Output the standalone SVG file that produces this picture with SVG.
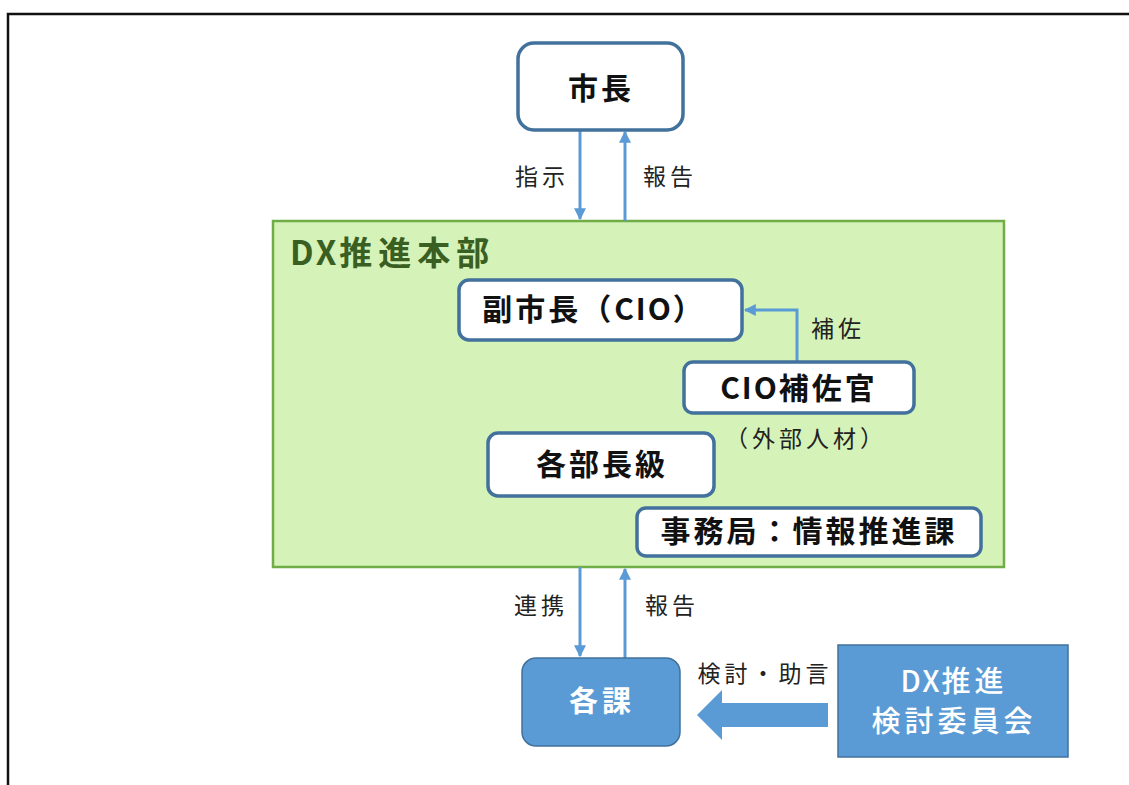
<svg xmlns="http://www.w3.org/2000/svg" width="1129" height="785" viewBox="0 0 1129 785">
<defs>
<style>
.t{font-family:"Noto Sans CJK JP","Liberation Sans",sans-serif;}
.nb{fill:#fff;stroke:#41719C;stroke-width:3.5;}
.nt{font-size:30px;font-weight:bold;fill:#111;text-anchor:middle;dominant-baseline:central;letter-spacing:3px;}
.lb{font-size:23px;fill:#222;text-anchor:middle;dominant-baseline:central;letter-spacing:4px;}
.cn{stroke:#5B9BD5;stroke-width:3;fill:none;}
.wt{font-size:29px;fill:#fff;text-anchor:middle;dominant-baseline:central;letter-spacing:4px;}
.la{letter-spacing:2px;}
</style>
<marker id="ah" viewBox="0 0 10 10" refX="9" refY="5" markerWidth="4" markerHeight="4" orient="auto-start-reverse" markerUnits="strokeWidth">
<path d="M0,0 L10,5 L0,10 z" fill="#5B9BD5"/>
</marker>
</defs>
<rect width="1129" height="785" fill="#fff"/>
<path d="M8,785 V14 H1129" fill="none" stroke="#111" stroke-width="2.5"/>

<g id="honbu">
<rect x="273" y="221" width="731" height="346" fill="#D5F2B8" stroke="#70AD47" stroke-width="2.5"/>
<text class="t" x="290" y="251" font-size="33" font-weight="bold" fill="#3A5F22" dominant-baseline="central" letter-spacing="6"><tspan letter-spacing="3">DX</tspan>推進本部</text>
</g>

<g id="connectors">
<line class="cn" x1="580" y1="130" x2="580" y2="219" marker-end="url(#ah)"/>
<line class="cn" x1="625" y1="221" x2="625" y2="132" marker-end="url(#ah)"/>
<line class="cn" x1="580" y1="567" x2="580" y2="656" marker-end="url(#ah)"/>
<line class="cn" x1="625" y1="658" x2="625" y2="569" marker-end="url(#ah)"/>
<polyline class="cn" points="797,362 797,310 745,310" marker-end="url(#ah)"/>
<polygon points="828,703 722,703 722,690 697,715 722,740 722,727 828,727" fill="#5B9BD5"/>
<text class="t lb" x="542" y="175">指示</text>
<text class="t lb" x="670" y="175">報告</text>
<text class="t lb" x="838" y="327">補佐</text>
<text class="t lb" x="541" y="604">連携</text>
<text class="t lb" x="672" y="604">報告</text>
<text class="t lb" x="765" y="672">検討・助言</text>
</g>

<g id="shicho">
<rect class="nb" x="518" y="43" width="165" height="87" rx="16"/>
<text class="t nt" x="601" y="86">市長</text>
</g>

<g id="fukushicho">
<rect class="nb" x="459" y="280" width="283" height="60" rx="10"/>
<text class="t nt" x="594" y="307">副市長（<tspan class="la">CIO</tspan>）</text>
</g>

<g id="cio-hosakan">
<rect class="nb" x="684" y="362" width="230" height="51" rx="9"/>
<text class="t nt" x="799" y="386"><tspan class="la">CIO</tspan>補佐官</text>
<text class="t lb" x="806" y="437">（外部人材）</text>
</g>

<g id="kakubuchokyu">
<rect class="nb" x="488" y="433" width="226" height="63" rx="10"/>
<text class="t nt" x="602" y="462">各部長級</text>
</g>

<g id="jimukyoku">
<rect class="nb" x="637" y="508" width="344" height="48" rx="9"/>
<text class="t nt" x="809" y="529">事務局：情報推進課</text>
</g>

<g id="kakuka">
<rect x="522" y="658" width="158" height="88" rx="14" fill="#5B9BD5" stroke="#41719C" stroke-width="1.5"/>
<text class="t wt" x="602" y="699" font-weight="bold">各課</text>
</g>

<g id="iinkai">
<rect x="838" y="645" width="230" height="112" fill="#5B9BD5" stroke="#41719C" stroke-width="1.5"/>
<text class="t wt" x="954" y="679" font-weight="500"><tspan class="la">DX</tspan>推進</text>
<text class="t wt" x="954" y="719" font-weight="500">検討委員会</text>
</g>
</svg>
